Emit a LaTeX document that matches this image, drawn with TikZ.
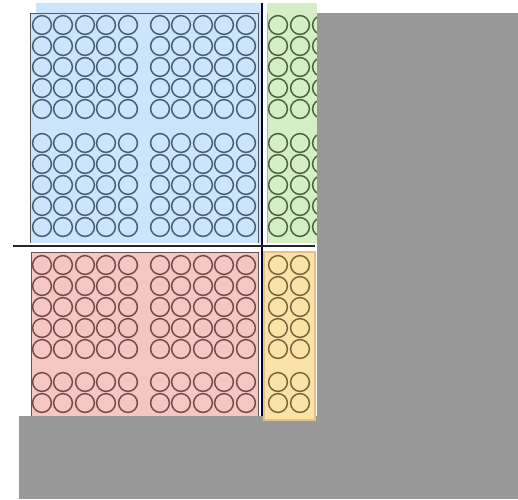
\documentclass[tikz,border=0pt]{standalone}
\usepackage{tikz}
\definecolor{tileBlue}{RGB}{204,228,252}
\definecolor{tileGreen}{RGB}{214,238,198}
\definecolor{tileRed}{RGB}{245,199,195}
\definecolor{tileYellow}{RGB}{251,227,168}
\definecolor{ringBlue}{RGB}{70,96,120}
\definecolor{ringGreen}{RGB}{76,100,66}
\definecolor{ringRed}{RGB}{116,76,74}
\definecolor{ringYellow}{RGB}{122,102,58}
\definecolor{padGray}{RGB}{153,153,153}
\tikzset{
  cell/.style={line width=1.5pt},
  frame/.style={draw=gray!70!black, line width=0.9pt},
  split/.style={line width=2.2pt},
}

\begin{document}
\begin{tikzpicture}[x=1pt, y=-1pt]
  \useasboundingbox (0,0) rectangle (518,499);

  % ----- tile fills -----
  \fill[tileBlue]  (36,3) rectangle (262,243);        % main block
  \fill[tileBlue]  (30,13) rectangle (258,243);
  \fill[tileGreen] (267,3) rectangle (317,243);       % right edge
  \fill[tileRed]   (31,252) rectangle (258,416);      % bottom edge

  % ----- elements -----
  \foreach \cx in {42,63,85,106,128,160,181,203,224,246}
    \foreach \cy in {25,46,67,88,109,143,164,185,206,227}
      \draw[cell, ringBlue] (\cx,\cy) circle[radius=9.4];
  \foreach \cx in {278,300,322}
    \foreach \cy in {25,46,67,88,109,143,164,185,206,227}
      \draw[cell, ringGreen] (\cx,\cy) circle[radius=9.4];
  \foreach \cx in {42,63,85,106,128,160,181,203,224,246}
    \foreach \cy in {265,286,307,328,349,382,403}
      \draw[cell, ringRed] (\cx,\cy) circle[radius=9.4];

  % ----- tile frames -----
  \draw[frame] (30,243) -- (30,13) -- (258,13) -- (258,243);
  \draw[frame] (31,416) -- (31,252) -- (258,252) -- (258,416);
  \draw[frame, gray!60] (267,13) -- (267,243);

  % ----- padding -----
  \fill[padGray] (317,13) rectangle (518,499);
  \fill[padGray] (19,416) rectangle (518,499);

  % ----- corner tile, over the padding -----
  \fill[tileYellow] (264,252) rectangle (315,420);
  \foreach \cx in {278,300}
    \foreach \cy in {265,286,307,328,349,382,403}
      \draw[cell, ringYellow] (\cx,\cy) circle[radius=9.4];
  \draw[draw=tileYellow!65!brown, line width=1.6pt] (264,252) rectangle (315,420);

  % ----- split lines -----
  \draw[split, black!80!blue] (262,3) -- (262,416);
  \draw[split, black!85] (13,246) -- (315,246);
\end{tikzpicture}
\end{document}
